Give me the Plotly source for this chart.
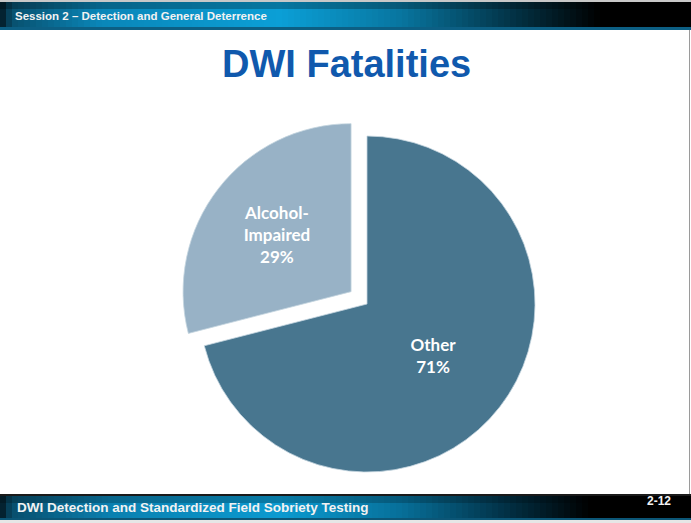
import plotly.graph_objects as go

# ---- data ----
labels = ["Other", "Alcohol-<br>Impaired"]
values = [71, 29]
slice_colors = ["#48768f", "#98b2c6"]
pulls = [0, 0.12]

title_text = "DWI Fatalities"
header_text = "Session 2 – Detection and General Deterrence"
footer_text = "DWI Detection and Standardized Field Sobriety Testing"
page_text = "2-12"

W, H = 691, 523

def px_x(x):
    return x / W

def px_y(y):
    return 1 - y / H

def hex2rgb(h):
    h = h.lstrip("#")
    return tuple(int(h[i:i + 2], 16) for i in (0, 2, 4))

def interp(stops, x):
    for (x0, c0), (x1, c1) in zip(stops[:-1], stops[1:]):
        if x0 <= x <= x1:
            t = (x - x0) / (x1 - x0) if x1 > x0 else 0
            a, b = hex2rgb(c0), hex2rgb(c1)
            return "rgb(%d,%d,%d)" % tuple(round(a[i] + (b[i] - a[i]) * t) for i in range(3))
    return stops[-1][1]

top_stops = [(0, "#03141c"), (12, "#08506f"), (100, "#0a86b8"), (280, "#0b9fd6"),
             (400, "#0876a0"), (500, "#033a50"), (600, "#000000"), (691, "#000000")]
bot_stops = [(0, "#03141c"), (12, "#084e6d"), (110, "#0a80b0"), (280, "#0b9ad0"),
             (400, "#07709a"), (500, "#02344a"), (590, "#000000"), (691, "#000000")]

shapes = []

def bar(stops, y0, y1, step=6):
    x = 0
    while x < W:
        x2 = min(W, x + step)
        shapes.append(dict(type="rect", xref="paper", yref="paper",
                           x0=px_x(x), x1=px_x(x2) + 0.001, y0=px_y(y1), y1=px_y(y0),
                           fillcolor=interp(stops, x + step / 2), line=dict(width=0), layer="below"))
        x = x2

# page frame line at top
shapes.append(dict(type="rect", xref="paper", yref="paper", x0=0, x1=1, y0=px_y(2), y1=1,
                   fillcolor="#c8c8c8", line=dict(width=0), layer="below"))
bar(top_stops, 2, 28)
# darker top portion of header
shapes.append(dict(type="rect", xref="paper", yref="paper", x0=0, x1=1, y0=px_y(9), y1=px_y(2),
                   fillcolor="rgba(0,0,0,0.25)", line=dict(width=0), layer="below"))
shapes.append(dict(type="rect", xref="paper", yref="paper", x0=0, x1=1, y0=px_y(30), y1=px_y(27),
                   fillcolor="#0c5f84", line=dict(width=0), layer="below"))
# bottom
shapes.append(dict(type="rect", xref="paper", yref="paper", x0=0, x1=1, y0=px_y(496), y1=px_y(494),
                   fillcolor="#1a1a1a", line=dict(width=0), layer="below"))
bar(bot_stops, 496, 518)
shapes.append(dict(type="rect", xref="paper", yref="paper", x0=0, x1=1, y0=px_y(503), y1=px_y(496),
                   fillcolor="rgba(0,0,0,0.2)", line=dict(width=0), layer="below"))
shapes.append(dict(type="rect", xref="paper", yref="paper", x0=0, x1=1, y0=px_y(520), y1=px_y(518),
                   fillcolor="#0b5677", line=dict(width=0), layer="below"))
shapes.append(dict(type="rect", xref="paper", yref="paper", x0=0, x1=1, y0=0, y1=px_y(520),
                   fillcolor="#e6e6e6", line=dict(width=0), layer="below"))
# right frame line
shapes.append(dict(type="line", xref="paper", yref="paper", x0=px_x(689.5), x1=px_x(689.5),
                   y0=px_y(494), y1=px_y(30), line=dict(color="#9a9a9a", width=1)))

# pie geometry: center (367,304), radius 168 px
cx, cy, r = 367, 304, 168
half = r * (1 + max(pulls))
domain_x = [px_x(cx - half), px_x(cx + half)]
domain_y = [px_y(cy + half), px_y(cy - half)]

fig = go.Figure(go.Pie(
    labels=labels,
    values=values,
    sort=False,
    direction="clockwise",
    rotation=0,
    pull=pulls,
    marker=dict(colors=slice_colors, line=dict(color="#c5d5e0", width=0.8)),
    texttemplate="%{label}<br>%{percent:.0%}",
    textposition="inside",
    insidetextorientation="horizontal",
    textfont=dict(family="Lato, 'Open Sans', sans-serif", size=17, color="white", weight="bold"),
    domain=dict(x=domain_x, y=domain_y),
    showlegend=False,
    hoverinfo="label+percent",
))

annotations = [
    dict(text=title_text, x=px_x(347), y=px_y(64), xref="paper", yref="paper",
         showarrow=False, xanchor="center", yanchor="middle",
         font=dict(family="Liberation Sans, Arial, sans-serif", size=38, color="#1059ad", weight="bold")),
    dict(text=header_text, x=px_x(13), y=px_y(16), xref="paper", yref="paper",
         showarrow=False, xanchor="left", yanchor="middle",
         font=dict(family="'Liberation Sans', Arial, sans-serif", size=11.5, color="#f2f2f2", weight="bold")),
    dict(text=footer_text, x=px_x(15), y=px_y(507), xref="paper", yref="paper",
         showarrow=False, xanchor="left", yanchor="middle",
         font=dict(family="'Liberation Sans', Arial, sans-serif", size=13.5, color="#f2f2f2", weight="bold")),
    dict(text=page_text, x=px_x(673), y=px_y(501), xref="paper", yref="paper",
         showarrow=False, xanchor="right", yanchor="middle",
         font=dict(family="'Liberation Sans', Arial, sans-serif", size=12, color="#f2f2f2", weight="bold")),
]

fig.update_layout(
    width=W, height=H,
    margin=dict(l=0, r=0, t=0, b=0),
    paper_bgcolor="white",
    plot_bgcolor="white",
    shapes=shapes,
    annotations=annotations,
)

fig.write_html("out.html", config={"displayModeBar": False},
               post_script="document.body.style.margin='0';document.body.style.overflow='hidden';")
